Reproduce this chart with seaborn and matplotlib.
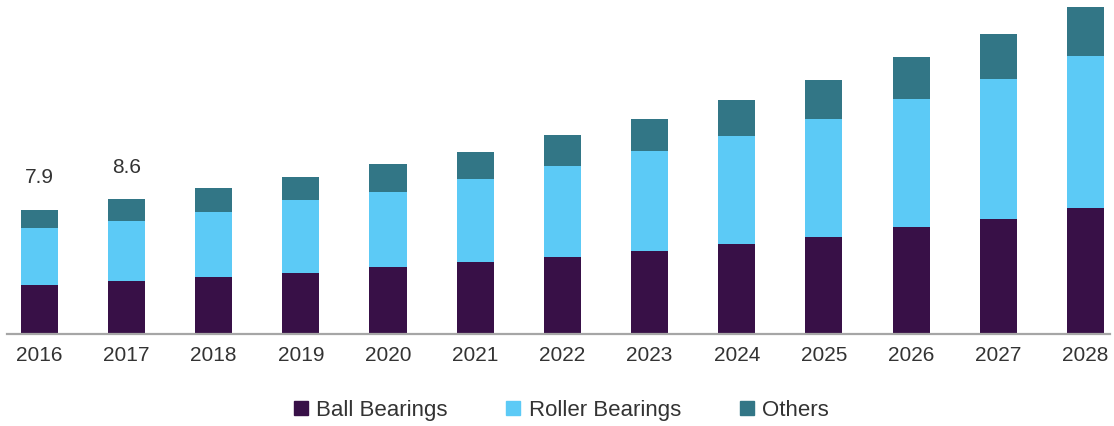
import numpy as np
import pandas as pd
import seaborn as sns
import matplotlib.pyplot as plt
from matplotlib.lines import Line2D

years = ["2016", "2017", "2018", "2019", "2020", "2021", "2022",
         "2023", "2024", "2025", "2026", "2027", "2028"]
ball = [3.12, 3.40, 3.65, 3.89, 4.29, 4.59, 4.89, 5.29, 5.71, 6.20, 6.82, 7.32, 8.02]
roller = [3.63, 3.80, 4.14, 4.62, 4.78, 5.27, 5.82, 6.39, 6.90, 7.50, 8.15, 8.92, 9.70]
others = [1.15, 1.38, 1.49, 1.49, 1.74, 1.72, 1.97, 2.02, 2.29, 2.48, 2.65, 2.89, 3.10]
shown_labels = {"2016": "7.9", "2017": "8.6"}

colors = {"Ball Bearings": "#381047", "Roller Bearings": "#5ccaf6", "Others": "#327686"}

df = pd.DataFrame({"year": years, "ball": ball, "roller": roller, "others": others})
df["ball_roller"] = df["ball"] + df["roller"]
df["total"] = df["ball_roller"] + df["others"]

sns.set_theme(style="white")
plt.rcParams["font.family"] = ["Liberation Sans", "DejaVu Sans"]

fig = plt.figure(figsize=(11.14, 4.26), dpi=100)
ax = fig.add_axes([0.0063, 0.216, 0.99, 0.784])

# stacked bars: draw cumulative totals from the top layer down
w = 0.425
for col, name in [("total", "Others"), ("ball_roller", "Roller Bearings"), ("ball", "Ball Bearings")]:
    sns.barplot(data=df, x="year", y=col, color=colors[name], width=w, ax=ax,
                saturation=1, linewidth=0)

for i, y in enumerate(years):
    if y in shown_labels:
        ax.annotate(shown_labels[y], (i, df["total"][i]), xytext=(0, 23),
                    textcoords="offset points", ha="center", va="center",
                    fontsize=15, color="#333333")

ax.set_xlim(-0.37, 12.28)
ax.set_ylim(0, 21.27)
ax.set_xlabel("")
ax.set_ylabel("")
ax.set_yticks([])
ax.tick_params(axis="x", length=0, pad=9, labelsize=15, labelcolor="#333333")
for s in ["top", "right", "left"]:
    ax.spines[s].set_visible(False)
ax.spines["bottom"].set_color("#a6a6a6")
ax.spines["bottom"].set_linewidth(1.6)

handles = [Line2D([], [], marker="s", linestyle="", markersize=10, color=c) for c in colors.values()]
fig.legend(handles, list(colors.keys()), loc="center", bbox_to_anchor=(0.5036, 0.037),
           ncol=3, frameon=False, fontsize=16, handlelength=0.7, handletextpad=0.35,
           columnspacing=2.6, labelcolor="#333333")

fig.savefig("out.png", dpi=100)
